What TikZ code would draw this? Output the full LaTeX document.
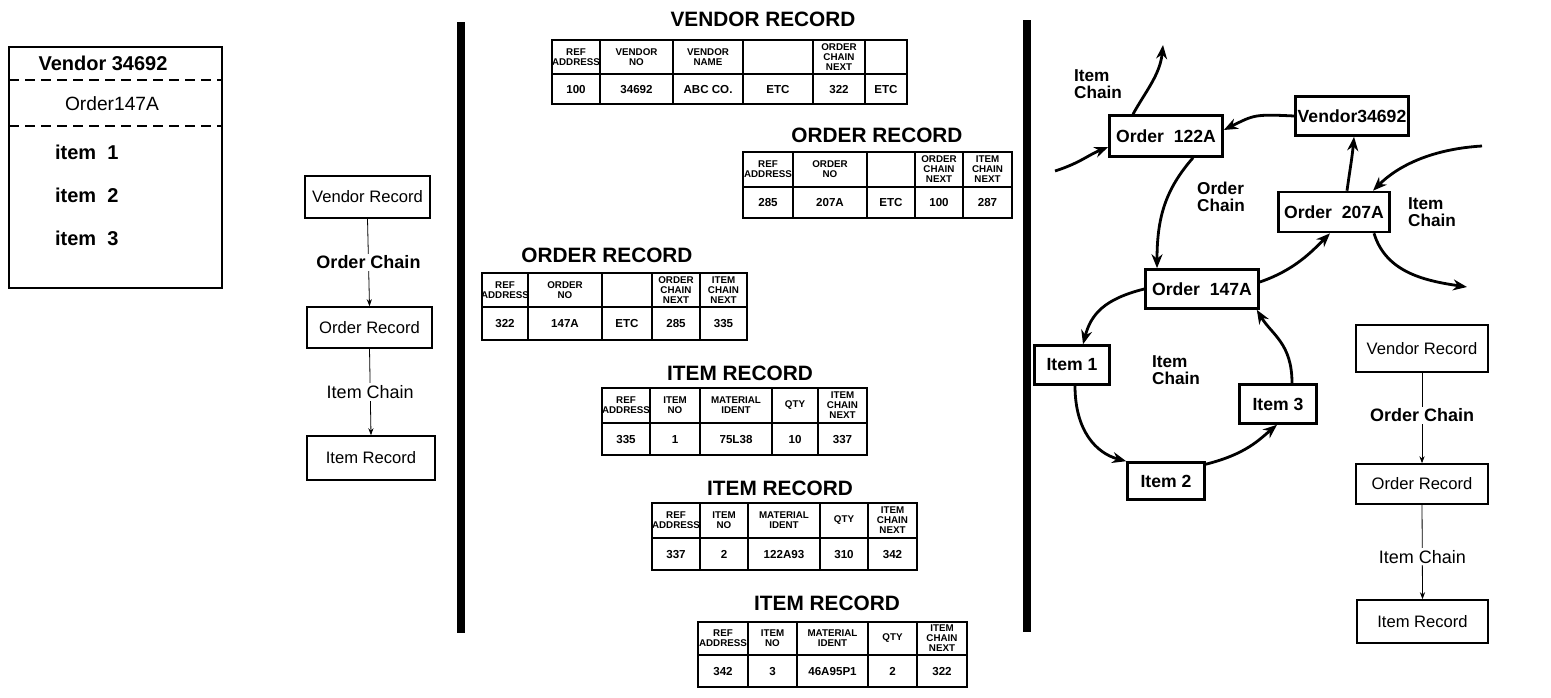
\documentclass[tikz,border=0pt]{standalone}
\usepackage{fontspec}
\setmainfont{Liberation Sans}
\usetikzlibrary{arrows.meta,calc}
\newcommand\fsz[1]{\fontsize{#1}{#1}\selectfont}
\newcommand\rectab[4]{%
  \foreach \xa/\xb/\h/\d in {#4} {
    \draw[tab] (\xa,#1) rectangle (\xb,#3);
    \draw[tab] (\xa,#2) -- (\xb,#2);
    \node[hd] at ({(\xa+\xb)/2},{(#1+#2)/2}) {\h};
    \node[dt] at ({(\xa+\xb)/2},{(#2+#3)/2}) {\d};
  }%
}
\begin{document}
\begin{tikzpicture}[x=0.5pt,y=-0.5pt,
  tab/.style={line width=0.8pt},
  hd/.style={font=\bfseries\fontsize{4.9}{5}\selectfont,align=center,inner sep=0pt},
  dt/.style={font=\bfseries\fsz{5.8},inner sep=0pt,text height=4.2pt,text depth=0pt},
  ttl/.style={font=\bfseries\fsz{10.4},inner sep=0pt},
  fbox/.style={draw,line width=0.8pt,font=\fsz{8.3},inner sep=0pt},
  farr/.style={line width=0.4pt,-{Stealth[length=3.5pt,width=2.6pt]}},
  lab/.style={fill=white,font=\bfseries\fsz{9},inner sep=1pt},
  gbox/.style={draw,line width=1.3pt,font=\bfseries\fsz{8.8},inner sep=0pt},
  garr/.style={line width=1.4pt,-{Stealth[length=7pt,width=5.5pt]}},
  glab/.style={font=\bfseries\fsz{8.6},align=left,inner sep=0pt}]
\useasboundingbox (0,0) rectangle (1551,697);
% ---------------- left box
\draw[line width=1pt] (9,47) rectangle (222,288);
\draw[dashed,line width=0.6pt,dash pattern=on 5pt off 3pt] (9,80) -- (222,80);
\draw[dashed,line width=0.6pt,dash pattern=on 5pt off 3pt] (9,126) -- (222,126);
\node[font=\bfseries\fsz{10}] (lv) at (103,63) {Vendor 34692};
\node[font=\fsz{9.6}] (lo) at (112,104) {Order147A};
\node[font=\bfseries\fsz{10},anchor=west] (li1) at (48,152) {item\ \ 1};
\node[font=\bfseries\fsz{10},anchor=west] (li2) at (48,195) {item\ \ 2};
\node[font=\bfseries\fsz{10},anchor=west] (li3) at (48,238) {item\ \ 3};
% ---------------- left flowchart
\node[fbox,minimum width=62.5pt,minimum height=21pt] (fv) at (367.5,197) {Vendor Record};
\node[fbox,minimum width=62.5pt,minimum height=20.5pt] (fo) at (369.5,327.5) {Order Record};
\node[fbox,minimum width=64pt,minimum height=22pt] (fi) at (371,458) {Item Record};
\draw[farr] (fv.south) -- node[lab] {Order Chain} (fo.north);
\draw[farr] (fo.south) -- node[lab,font=\fsz{9}] {Item Chain} (fi.north);
% ---------------- bars
\fill (457,22) rectangle (465,633);
\fill (1023,20) rectangle (1031,632);
% ---------------- tables
\node[ttl] (t1) at (763,19) {VENDOR RECORD};
\rectab{40}{74}{104}{552/600/{REF\\ADDRESS}/100, 600/673/{VENDOR\\NO}/34692, 673/743/{VENDOR\\NAME}/ABC CO., 743/813/{}/ETC, 813/865/{ORDER\\CHAIN\\NEXT}/322, 865/907/{}/ETC}
\node[ttl] (t2) at (877,135) {ORDER RECORD};
\rectab{152}{187}{218}{743/793/{REF\\ADDRESS}/285, 793/867/{ORDER\\NO}/207A, 867/915/{}/ETC, 915/963/{ORDER\\CHAIN\\NEXT}/100, 963/1012/{ITEM\\CHAIN\\NEXT}/287}
\node[ttl] (t3) at (607,255) {ORDER RECORD};
\rectab{273}{307}{340}{482/528/{REF\\ADDRESS}/322, 528/602/{ORDER\\NO}/147A, 602/652/{}/ETC, 652/700/{ORDER\\CHAIN\\NEXT}/285, 700/747/{ITEM\\CHAIN\\NEXT}/335}
\node[ttl] (t4) at (740,373) {ITEM RECORD};
\rectab{388}{423}{455}{602/650/{REF\\ADDRESS}/335, 650/700/{ITEM\\NO}/1, 700/772/{MATERIAL\\IDENT}/75L38, 772/818/{QTY}/10, 818/867/{ITEM\\CHAIN\\NEXT}/337}
\node[ttl] (t5) at (780,488) {ITEM RECORD};
\rectab{503}{538}{570}{652/700/{REF\\ADDRESS}/337, 700/748/{ITEM\\NO}/2, 748/820/{MATERIAL\\IDENT}/122A93, 820/868/{QTY}/310, 868/917/{ITEM\\CHAIN\\NEXT}/342}
\node[ttl] (t6) at (827,603) {ITEM RECORD};
\rectab{622}{655}{687}{698/748/{REF\\ADDRESS}/342, 748/797/{ITEM\\NO}/3, 797/868/{MATERIAL\\IDENT}/46A95P1, 868/917/{QTY}/2, 917/967/{ITEM\\CHAIN\\NEXT}/322}
% ---------------- right graph
\node[gbox,minimum width=56.5pt,minimum height=20.5pt] (o122) at (1166,136) {Order\ \ 122A};
\node[gbox,minimum width=56.5pt,minimum height=19.5pt] (v346) at (1352,116) {Vendor34692};
\node[gbox,minimum width=55.5pt,minimum height=20pt] (o207) at (1334,212) {Order\ \ 207A};
\node[gbox,minimum width=56.5pt,minimum height=19.5pt] (o147) at (1202,289) {Order\ \ 147A};
\node[gbox,minimum width=37.5pt,minimum height=19.5pt] (i1) at (1072,365) {Item 1};
\node[gbox,minimum width=38.5pt,minimum height=18.5pt] (i2) at (1166,481) {Item 2};
\node[gbox,minimum width=38.5pt,minimum height=19.5pt] (i3) at (1278,404) {Item 3};
\coordinate (a1) at (1055,171);
\coordinate (a2) at (1163,45);
\coordinate (a6) at (1482,146);
\coordinate (a7) at (1467,287);
\draw[garr] (a1) .. controls +(25,-8) and +(-20,8) .. ($(o122.west)+(0,11)$);
\draw[garr] ($(o122.north)+(-33,0)$) .. controls +(12,-22) and +(-3,30) .. (a2);
\draw[garr] (v346.west) .. controls +(-40,-2) and +(30,-15) .. ($(o122.east)+(0,-6)$);
\draw[garr] ($(o122.south)+(27,0)$) .. controls +(-28,32) and +(0,-50) .. ($(o147.north)+(-45,0)$);
\draw[garr] ($(o207.north)+(13,0)$) .. controls +(3,-22) and +(-2,22) .. ($(v346.south)+(2,0)$);
\draw[garr] (a6) .. controls +(-50,3) and +(25,-25) .. ($(o207.north)+(39,0)$);
\draw[garr] ($(o207.south)+(40,0)$) .. controls +(12,40) and +(-40,-6) .. (a7);
\draw[garr] ($(o147.east)+(0,-7)$) .. controls +(35,-12) and +(-18,18) .. ($(o207.south)+(-4,0)$);
\draw[garr] (o147.west) .. controls +(-40,10) and +(8,-30) .. ($(i1.north)+(11,0)$);
\draw[garr] ($(i1.south)+(3,0)$) .. controls +(0,45) and +(-30,-8) .. (i2.north west);
\draw[garr] ($(i2.north east)+(0,3)$) .. controls +(40,-10) and +(-18,15) .. ($(i3.south)+(-1,0)$);
\draw[garr] ($(i3.north)+(14,0)$) .. controls +(0,-40) and +(15,25) .. ($(o147.south east)+(-3,0)$);
\node[glab] (l1) at (1098,84) {Item\\Chain};
\node[glab] (l2) at (1221,197) {Order\\Chain};
\node[glab] (l3) at (1432,212) {Item\\Chain};
\node[glab] (l4) at (1176,370) {Item\\Chain};
% ---------------- right flowchart
\node[fbox,minimum width=66pt,minimum height=23.5pt] (rv) at (1422,348.5) {Vendor Record};
\node[fbox,minimum width=66pt,minimum height=20pt] (ro) at (1422,484) {Order Record};
\node[fbox,minimum width=65.5pt,minimum height=21.5pt] (ri) at (1422.5,621.5) {Item Record};
\draw[farr] (rv.south) -- node[lab,pos=0.47] {Order Chain} (ro.north);
\draw[farr] (ro.south) -- node[lab,font=\fsz{9},pos=0.55] {Item Chain} (ri.north);
\end{tikzpicture}
\end{document}
